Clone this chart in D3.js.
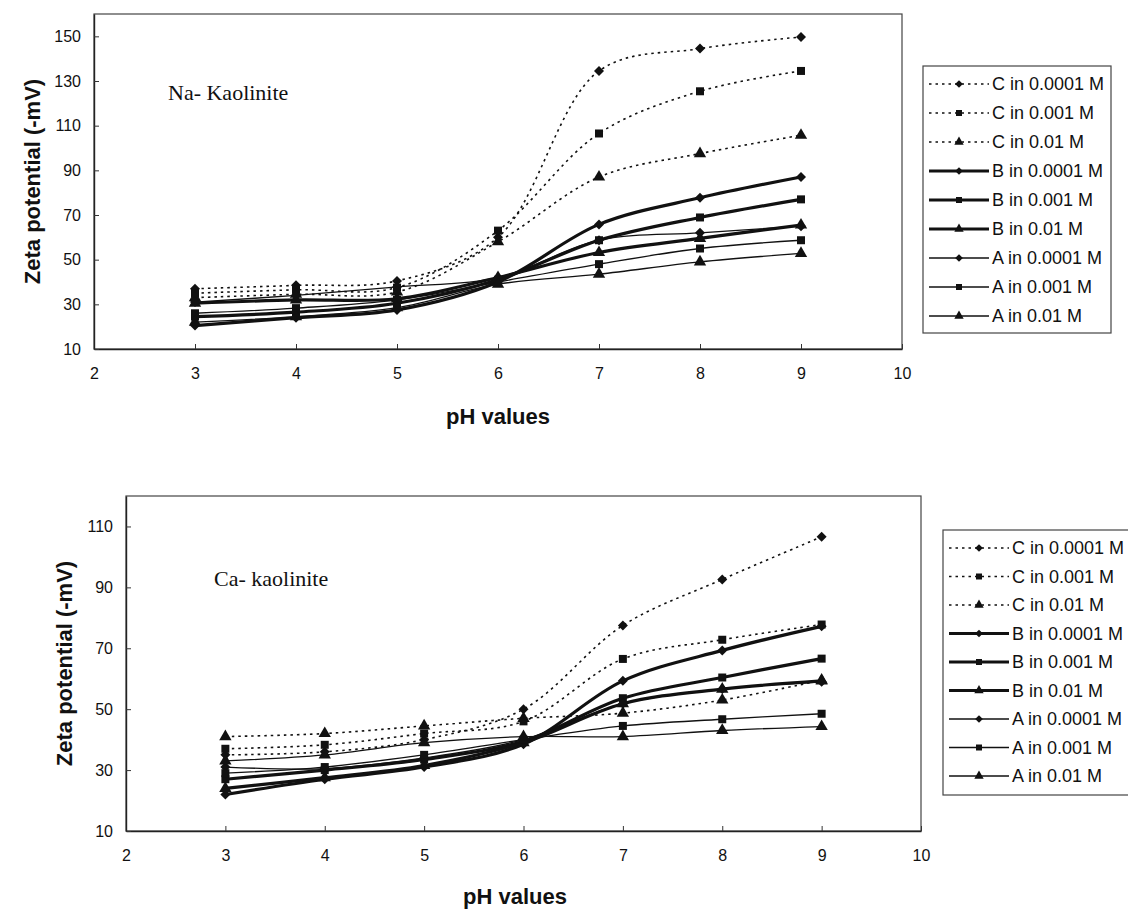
<!DOCTYPE html>
<html>
<head>
<meta charset="utf-8">
<script src="https://cdnjs.cloudflare.com/ajax/libs/d3/7.8.5/d3.min.js"></script>
<style>
  body { margin: 0; background: #fff; }
  svg { display: block; }
  .tick text { font-family: "Liberation Sans", Arial, sans-serif; font-size: 16px; fill: #111; }
</style>
</head>
<body>
<svg id="chart" width="1128" height="911"></svg>
<script>
// pH points measured
var pH = [3, 4, 5, 6, 7, 8, 9];
var xTicks = [2, 3, 4, 5, 6, 7, 8, 9, 10];
var seriesLabels = ['C in 0.0001 M', 'C in 0.001 M', 'C in 0.01 M',
                    'B in 0.0001 M', 'B in 0.001 M', 'B in 0.01 M',
                    'A in 0.0001 M', 'A in 0.001 M', 'A in 0.01 M'];

// Na-kaolinite zeta potentials (-mV)
var naYTicks = [10, 30, 50, 70, 90, 110, 130, 150];
var naC0001 = [37, 38.5, 40.5, 60, 134.5, 144.5, 149.7];
var naC001 = [35, 36.5, 37.5, 63, 106.5, 125.4, 134.5];
var naC01 = [33, 34.5, 35.5, 58, 87, 97.5, 105.7];
var naB0001 = [20.5, 24, 27.5, 40, 65.8, 77.7, 87];
var naB001 = [24.5, 26.5, 30.5, 41, 58.7, 68.9, 77];
var naB01 = [30.5, 32, 32.5, 42, 53.2, 59.5, 65.5];
var naA0001 = [31, 34, 37.8, 42, 58.7, 62, 65];
var naA001 = [26, 28.3, 32, 40, 48, 55, 58.7];
var naA01 = [22, 24.5, 28.5, 39, 43.5, 49, 52.8];

// Ca-kaolinite zeta potentials (-mV)
var caYTicks = [10, 30, 50, 70, 90, 110];
var caC0001 = [35, 36, 40, 50, 77.5, 92.6, 106.6];
var caC001 = [37, 38.3, 42, 46, 66.5, 72.8, 77.8];
var caC01 = [41, 42, 44.5, 47, 48.7, 53, 59.5];
var caB0001 = [22, 27, 31, 38.5, 59.3, 69.3, 77.2];
var caB001 = [27, 30, 33.5, 39.5, 53.6, 60.4, 66.6];
var caB01 = [24, 27.5, 31.5, 39, 51.8, 56.6, 59.3];
var caA0001 = [31, 30.5, 34, 40, 51.8, 56.6, 59];
var caA001 = [29, 31, 35, 40, 44.5, 46.7, 48.5];
var caA01 = [33, 35, 39, 41, 41, 43, 44.3];

var svg = d3.select('#chart');

// line style by group (C dotted, B thick, A thin), marker by concentration
function lineStyle(sel, i, legend) {
  var g = Math.floor(i / 3);
  if (g === 0) {
    sel.attr('stroke-width', 1.6).attr('stroke-dasharray', '2.5,4');
  } else if (g === 1) {
    sel.attr('stroke-width', legend ? 3 : 3.2);
  } else {
    sel.attr('stroke-width', 1.3);
  }
}

function marker(i, small) {
  var k = i % 3;
  if (k === 0) return {path: d3.symbol(d3.symbolSquare, small ? 30 : 50)(), rot: 45};
  if (k === 1) return {path: d3.symbol(d3.symbolSquare, small ? 36 : 64)(), rot: 0};
  return {path: d3.symbol(d3.symbolTriangle, small ? 38 : 66)(), rot: 0};
}

function drawPanel(cfg) {
  var x = d3.scaleLinear().domain([2, 10]).range([cfg.left, cfg.right]);
  var y = d3.scaleLinear().domain(cfg.yDomain).range([cfg.bottom, cfg.top]);
  var g = svg.append('g');

  // plot frame
  g.append('rect')
    .attr('x', cfg.left).attr('y', cfg.top)
    .attr('width', cfg.right - cfg.left).attr('height', cfg.bottom - cfg.top)
    .attr('fill', 'none').attr('stroke', '#444').attr('stroke-width', 1.2);

  var xAxis = g.append('g')
    .attr('transform', 'translate(0,' + cfg.bottom + ')')
    .call(d3.axisBottom(x).tickValues(xTicks).tickSizeInner(-5).tickSizeOuter(0).tickPadding(19).tickFormat(d3.format('d')));
  var yAxis = g.append('g')
    .attr('transform', 'translate(' + cfg.left + ',0)')
    .call(d3.axisLeft(y).tickValues(cfg.yTicks).tickSizeInner(-5).tickSizeOuter(0).tickPadding(13).tickFormat(d3.format('d')));
  [xAxis, yAxis].forEach(function(a) {
    a.select('.domain').attr('stroke', '#222').attr('stroke-width', 1.4);
    a.selectAll('.tick line').attr('stroke', '#333');
  });

  var line = d3.line()
    .x(function(d, j) { return x(pH[j]); })
    .y(function(d) { return y(d); })
    .curve(d3.curveCatmullRom.alpha(0.5));

  cfg.series.forEach(function(vals, i) {
    g.append('path')
      .attr('d', line(vals))
      .attr('fill', 'none').attr('stroke', '#111')
      .call(lineStyle, i, false);
  });
  cfg.series.forEach(function(vals, i) {
    var m = marker(i, false);
    g.selectAll(null).data(vals).enter().append('path')
      .attr('d', m.path)
      .attr('fill', '#111')
      .attr('transform', function(d, j) { return 'translate(' + x(pH[j]) + ',' + y(d) + ') rotate(' + m.rot + ')'; });
  });

  // panel caption
  g.append('text')
    .attr('x', cfg.captionX).attr('y', cfg.captionY)
    .attr('font-family', '"Liberation Serif", "Times New Roman", serif')
    .attr('font-size', 22).attr('fill', '#111')
    .text(cfg.caption);

  // axis titles
  g.append('text')
    .attr('x', cfg.xTitleX).attr('y', cfg.xTitleY)
    .attr('text-anchor', 'middle')
    .attr('font-family', '"Liberation Sans", Arial, sans-serif')
    .attr('font-weight', 'bold').attr('font-size', 22).attr('fill', '#111')
    .text('pH values');
  g.append('text')
    .attr('transform', 'translate(' + cfg.yTitleX + ',' + ((cfg.top + cfg.bottom) / 2) + ') rotate(-90)')
    .attr('text-anchor', 'middle')
    .attr('font-family', '"Liberation Sans", Arial, sans-serif')
    .attr('font-weight', 'bold').attr('font-size', 22).attr('fill', '#111')
    .text('Zeta potential (-mV)');

  // legend
  var lg = svg.append('g');
  lg.append('rect')
    .attr('x', cfg.legX).attr('y', cfg.legTop)
    .attr('width', cfg.legW).attr('height', cfg.legH)
    .attr('fill', '#fff').attr('stroke', '#444').attr('stroke-width', 1.2);
  seriesLabels.forEach(function(lbl, i) {
    var ry = cfg.legTop + cfg.legPad + i * cfg.legStep;
    var x0 = cfg.legX + 6, x1 = cfg.legX + 66;
    lg.append('line')
      .attr('x1', x0).attr('x2', x1).attr('y1', ry).attr('y2', ry)
      .attr('stroke', '#111')
      .call(lineStyle, i, true);
    var m = marker(i, true);
    lg.append('path')
      .attr('d', m.path).attr('fill', '#111')
      .attr('transform', 'translate(' + ((x0 + x1) / 2) + ',' + ry + ') rotate(' + m.rot + ')');
    lg.append('text')
      .attr('x', x1 + 3).attr('y', ry).attr('dy', '0.35em')
      .attr('font-family', '"Liberation Sans", Arial, sans-serif')
      .attr('font-size', 18).attr('fill', '#111')
      .text(lbl);
  });
}

drawPanel({
  left: 94, right: 902, top: 14, bottom: 349,
  yDomain: [10, 160], yTicks: naYTicks,
  series: [naC0001, naC001, naC01, naB0001, naB001, naB01, naA0001, naA001, naA01],
  caption: 'Na- Kaolinite', captionX: 168, captionY: 100,
  xTitleX: 498, xTitleY: 424, yTitleX: 40,
  legX: 923, legTop: 66, legW: 188, legH: 267, legPad: 18, legStep: 29
});

drawPanel({
  left: 126, right: 921, top: 496, bottom: 831,
  yDomain: [10, 120], yTicks: caYTicks,
  series: [caC0001, caC001, caC01, caB0001, caB001, caB01, caA0001, caA001, caA01],
  caption: 'Ca- kaolinite', captionX: 214, captionY: 586,
  xTitleX: 515, xTitleY: 904, yTitleX: 72,
  legX: 943, legTop: 530, legW: 190, legH: 265, legPad: 18, legStep: 28.5
});
</script>
</body>
</html>
